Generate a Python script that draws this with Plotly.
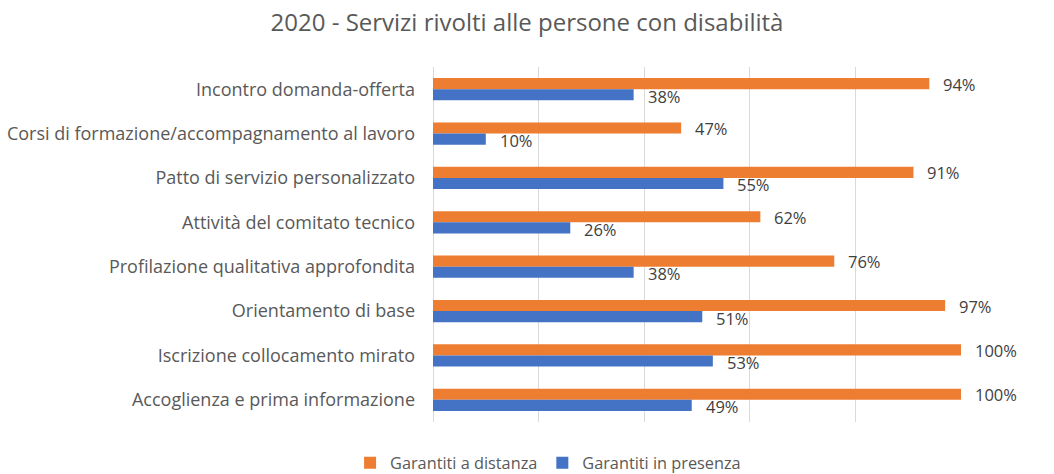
import plotly.graph_objects as go

categories = [
    "Incontro domanda-offerta",
    "Corsi di formazione/accompagnamento al lavoro",
    "Patto di servizio personalizzato",
    "Attività del comitato tecnico",
    "Profilazione qualitativa approfondita",
    "Orientamento di base",
    "Iscrizione collocamento mirato",
    "Accoglienza e prima informazione",
]
distanza = [94, 47, 91, 62, 76, 97, 100, 100]
presenza = [38, 10, 55, 26, 38, 51, 53, 49]

ORANGE = "#ED7D31"
BLUE = "#4472C4"
FONT = "Open Sans, sans-serif"

fig = go.Figure()
fig.add_trace(go.Bar(y=categories, x=distanza, orientation="h", name="Garantiti a distanza",
                     marker=dict(color=ORANGE, line=dict(width=0))))
fig.add_trace(go.Bar(y=categories, x=presenza, orientation="h", name="Garantiti in presenza",
                     marker=dict(color=BLUE, line=dict(width=0))))

annotations = []
for c, v in zip(categories, distanza):
    annotations.append(dict(x=v, y=c, xref="x", yref="y", text=f"{v}%", showarrow=False,
                            xanchor="left", yanchor="middle", xshift=12, yshift=5,
                            font=dict(family=FONT, size=16.5, color="#404040")))
for c, v in zip(categories, presenza):
    annotations.append(dict(x=v, y=c, xref="x", yref="y", text=f"{v}%", showarrow=False,
                            xanchor="left", yanchor="middle", xshift=12, yshift=-7,
                            font=dict(family=FONT, size=16.5, color="#404040")))

fig.update_layout(
    width=1054, height=474,
    margin=dict(l=433, r=93, t=67, b=52),
    paper_bgcolor="white", plot_bgcolor="white",
    barmode="group", bargap=0.5, bargroupgap=0,
    font=dict(family=FONT, size=16, color="#595959"),
    title=dict(text="2020 - Servizi rivolti alle persone con disabilità", xref="container", x=0.5,
               xanchor="center", y=0.952, yanchor="middle",
               font=dict(family=FONT, size=24, color="#595959")),
    xaxis=dict(range=[0, 100], dtick=20, showticklabels=False, showgrid=True, gridcolor="#D9D9D9",
               gridwidth=1, zeroline=True, zerolinecolor="#D9D9D9", zerolinewidth=1, showline=False,
               fixedrange=True, automargin=False),
    yaxis=dict(autorange="reversed", showgrid=False, showline=False, ticks="", automargin=False,
               ticklabelstandoff=17, tickfont=dict(family=FONT, size=18, color="#595959")),
    legend=dict(orientation="h", xref="container", yref="container", x=0.52, xanchor="center",
                y=0.023, yanchor="middle", font=dict(family=FONT, size=16.3, color="#595959"),
                itemwidth=30),
    annotations=annotations,
    showlegend=True,
)

fig.write_html("out.html", config={"displayModeBar": False},
               post_script="document.body.style.margin='0';document.body.style.padding='0';")
